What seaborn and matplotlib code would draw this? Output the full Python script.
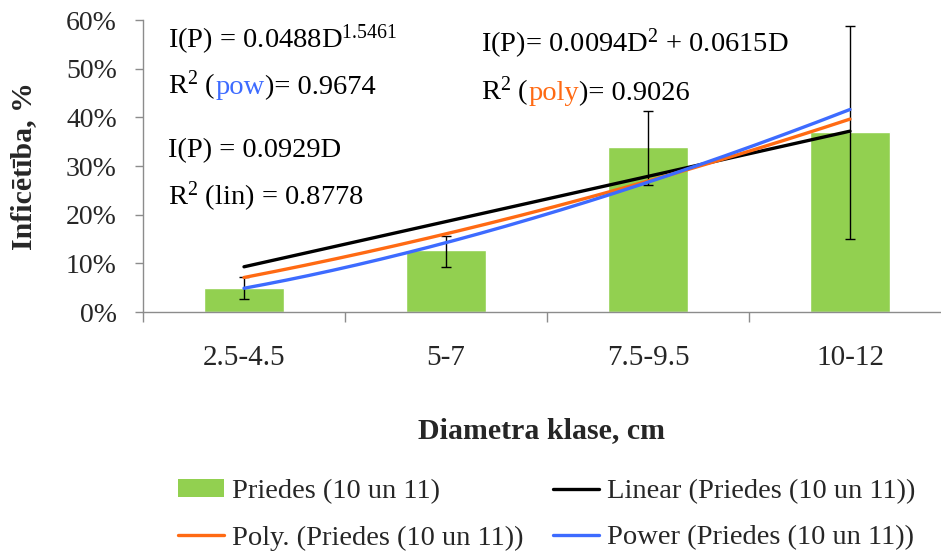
import numpy as np
import pandas as pd
import matplotlib
matplotlib.use("Agg")
import matplotlib.pyplot as plt
import seaborn as sns
from matplotlib.ticker import PercentFormatter, FixedLocator
from matplotlib.patches import Patch
from matplotlib.lines import Line2D

# ---------------- data ----------------
categories = ["2.5-4.5", "5-7", "7.5-9.5", "10-12"]
infection = [0.049, 0.127, 0.339, 0.370]
err_low = [0.026, 0.092, 0.261, 0.149]
err_high = [0.072, 0.157, 0.412, 0.587]
class_index = [1, 2, 3, 4]          # D used in the trendline equations
lin_coef = 0.0929                   # I = a*D
poly_coef = [0.0094, 0.0615]        # I = a*D^2 + b*D
pow_coef = [0.0488, 1.5461]         # I = a*D^b
y_ticks = [0.0, 0.1, 0.2, 0.3, 0.4, 0.5, 0.6]
series_name = "Priedes (10 un 11)"

# ---------------- style ----------------
sns.set_style("white")
plt.rcParams["font.family"] = ["Liberation Serif", "DejaVu Serif"]
plt.rcParams["mathtext.fontset"] = "custom"
plt.rcParams["mathtext.rm"] = "Liberation Serif"
plt.rcParams["mathtext.it"] = "Liberation Serif:italic"
plt.rcParams["mathtext.bf"] = "Liberation Serif:bold"

W, H = 941, 553
fig = plt.figure(figsize=(W / 100, H / 100), dpi=100)
ax = fig.add_axes([143 / W, 1 - 312 / H, (W - 143) / W, (312 - 20) / H])

BAR_C = "#92D050"
ORANGE = "#FF6A13"
BLUE = "#3D6BFF"
GRAY = "#8C8C8C"
LW = 2.4

df = pd.DataFrame({"klase": categories, "inf": infection})
sns.barplot(data=df, x="klase", y="inf", color=BAR_C, saturation=1,
            width=0.4, errorbar=None, ax=ax, zorder=2)

x_pos = np.arange(len(categories))
inf = np.array(infection)
yerr = [inf - np.array(err_low), np.array(err_high) - inf]
ax.errorbar(x_pos, inf, yerr=yerr, fmt="none", ecolor="black",
            elinewidth=1.0, capsize=3.6, capthick=1.0, zorder=3)

# trendlines from the displayed equations (D = 1..4 at bar centres)
D = np.linspace(class_index[0], class_index[-1], 200)
trend = pd.DataFrame({
    "x": np.concatenate([D - 1] * 3),
    "y": np.concatenate([lin_coef * D,
                         poly_coef[0] * D ** 2 + poly_coef[1] * D,
                         pow_coef[0] * D ** pow_coef[1]]),
    "kind": ["lin"] * len(D) + ["poly"] * len(D) + ["pow"] * len(D),
})
sns.lineplot(data=trend, x="x", y="y", hue="kind",
             palette={"lin": "black", "poly": ORANGE, "pow": BLUE},
             linewidth=LW, legend=False, ax=ax, zorder=4)

# axes
ax.set_xlim(-0.5, -0.5 + (W - 143) / 202)
ax.set_ylim(0, 0.6)
ax.set_yticks(y_ticks)
ax.yaxis.set_major_formatter(PercentFormatter(1.0, decimals=0))
ax.set_xticks(x_pos)
ax.set_xticklabels(categories)
ax.xaxis.set_minor_locator(FixedLocator([-0.5, 0.5, 1.5, 2.5, 3.5]))
ax.tick_params(axis="x", which="major", length=0, pad=24, labelsize=21)
ax.tick_params(axis="x", which="minor", length=7.5, width=1, color=GRAY,
               direction="out", bottom=True)
ax.tick_params(axis="y", which="major", length=5.8, width=1, color=GRAY,
               direction="out", left=True, pad=13, labelsize=20)
for s in ["top", "right"]:
    ax.spines[s].set_visible(False)
for s in ["left", "bottom"]:
    ax.spines[s].set_color(GRAY)
    ax.spines[s].set_linewidth(1.0)
ax.grid(False)

ax.set_xlabel("Diametra klase, cm", fontsize=21.5, fontweight="bold")
ax.set_ylabel("Inficētība, %", fontsize=21.5, fontweight="bold")
ax.xaxis.set_label_coords(0.5, (312 - 431) / 292)
ax.xaxis.label.set_va("center")
ax.yaxis.set_label_coords((24 - 143) / (W - 143), 0.5)
ax.yaxis.label.set_va("center")

# equations (rich text pieces placed on a common baseline)
fig.canvas.draw()
renderer = fig.canvas.get_renderer()


def rich(x, y, parts, size=20.5):
    cx = x
    for s, c in parts:
        t = fig.text(cx / W, 1 - y / H, s, color=c, fontsize=size,
                     va="baseline", ha="left")
        cx += t.get_window_extent(renderer).width


rich(168, 48, [("I(P) = 0.0488D$^{1.5461}$", "black")])
rich(168, 94, [("R$^{2}$ (", "black"), ("pow", BLUE), (")= 0.9674", "black")])
rich(168, 157, [("I(P) = 0.0929D", "black")])
rich(168, 205, [("R$^{2}$ (lin) = 0.8778", "black")])
rich(481, 52, [("I(P)= 0.0094D$^{2}$ + 0.0615D", "black")])
rich(481, 100, [("R$^{2}$ (", "black"), ("poly", ORANGE), (")= 0.9026", "black")])

# legend (column-wise order for ncol=2)
handles = [
    Patch(facecolor=BAR_C, edgecolor="none"),
    Line2D([], [], color=ORANGE, lw=LW),
    Line2D([], [], color="black", lw=LW),
    Line2D([], [], color=BLUE, lw=LW),
]
labels = [series_name, f"Poly. ({series_name})",
          f"Linear ({series_name})", f"Power ({series_name})"]
fig.legend(handles, labels, loc="upper left",
           bbox_to_anchor=(178 / W, 1 - 479 / H), ncol=2, frameon=False,
           fontsize=20.5, handlelength=1.61, handleheight=0.6,
           handletextpad=0.28, labelspacing=0.75, columnspacing=1.05,
           borderpad=0, borderaxespad=0)

fig.savefig("out.png", dpi=100)
